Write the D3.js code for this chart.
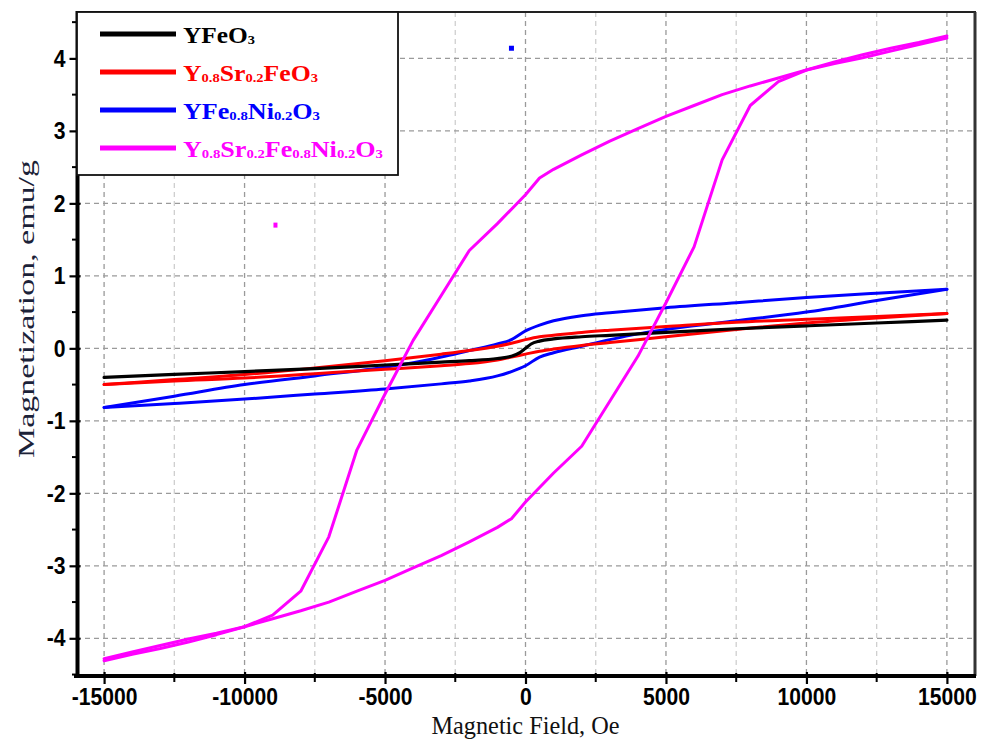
<!DOCTYPE html>
<html>
<head>
<meta charset="utf-8">
<script src="https://cdn.jsdelivr.net/npm/d3@7"></script>
<style>
  html, body { margin: 0; padding: 0; background: #fff; }
  svg { display: block; }
</style>
</head>
<body>
<svg id="chart" width="989" height="741"></svg>
<script>
// ---------------- DATA ----------------
const xTicks = [-15000, -10000, -5000, 0, 5000, 10000, 15000];
const yTicks = [-4, -3, -2, -1, 0, 1, 2, 3, 4];

// YFeO3 (black)
const blackH = [-15000,-12500,-10000,-7500,-5000,-3000,-2000,-1000,-500,-200,0,200,500,1000,2000,3000,5000,7500,10000,12500,15000];
const blackM = [-0.40,-0.36,-0.32,-0.28,-0.23,-0.19,-0.17,-0.14,-0.11,-0.06,0.0,0.06,0.10,0.13,0.16,0.18,0.22,0.27,0.31,0.35,0.39];

// Y0.8Sr0.2FeO3 (red)
const redH = [-15000,-12500,-10000,-7500,-5000,-3000,-2000,-1000,-500,0,500,1000,2000,3000,5000,7500,10000,12500,15000];
const redUpper = [-0.50,-0.43,-0.36,-0.27,-0.17,-0.08,-0.03,0.03,0.07,0.12,0.16,0.18,0.22,0.25,0.30,0.36,0.40,0.44,0.48];
const redLower = [-0.50,-0.45,-0.41,-0.35,-0.29,-0.24,-0.21,-0.16,-0.12,-0.08,-0.04,-0.01,0.04,0.08,0.16,0.26,0.35,0.42,0.48];

// YFe0.8Ni0.2O3 (blue)
const blueUpperH = [-15000,-12500,-10000,-7500,-5000,-4000,-3000,-2000,-1000,-500,0,500,1000,2000,3000,5000,7500,10000,12500,15000];
const blueUpper  = [-0.815,-0.66,-0.50,-0.38,-0.26,-0.20,-0.12,-0.03,0.06,0.12,0.24,0.32,0.38,0.45,0.49,0.56,0.63,0.70,0.76,0.815];
const blueLowerH = [-15000,-12500,-10000,-7500,-5000,-3000,-2000,-1000,-500,0,500,1000,2000,3000,4000,5000,7500,10000,12500,15000];
const blueLower  = [-0.815,-0.76,-0.70,-0.63,-0.56,-0.49,-0.45,-0.38,-0.32,-0.24,-0.12,-0.06,0.03,0.12,0.20,0.26,0.38,0.50,0.66,0.815];

// Y0.8Sr0.2Fe0.8Ni0.2O3 (magenta)
const magH = [-15000,-14000,-13000,-12000,-11000,-10000,-9000,-8000,-7000,-6000,-5000,-4000,-3000,-2000,-1000,-500,0,500,1000,2000,3000,4000,5000,6000,7000,8000,9000,10000,11000,12000,13000,14000,15000];
const magUpper = [-4.28,-4.19,-4.10,-4.01,-3.93,-3.84,-3.68,-3.35,-2.60,-1.40,-0.63,0.11,0.73,1.35,1.72,1.92,2.12,2.35,2.47,2.67,2.86,3.03,3.20,3.35,3.50,3.62,3.73,3.84,3.95,4.05,4.14,4.22,4.31];
const magLower = [-4.31,-4.22,-4.14,-4.05,-3.95,-3.84,-3.73,-3.62,-3.50,-3.35,-3.20,-3.03,-2.86,-2.67,-2.47,-2.35,-2.12,-1.92,-1.72,-1.35,-0.73,-0.11,0.63,1.40,2.60,3.35,3.68,3.84,3.93,4.01,4.10,4.19,4.28];

// stray marks present in the original figure
const strayBlue = [[-500, 4.14]];
const strayMagenta = [[-8900, 1.70]];

const seriesNames = ["YFeO3", "Y0.8Sr0.2FeO3", "YFe0.8Ni0.2O3", "Y0.8Sr0.2Fe0.8Ni0.2O3"];
const seriesColors = ["#000000", "#ff0000", "#0000ff", "#ff00ff"];
// legend labels as [text, isSubscript] parts
const legendParts = [
  [["YFeO",0],["3",1]],
  [["Y",0],["0.8",1],["Sr",0],["0.2",1],["FeO",0],["3",1]],
  [["YFe",0],["0.8",1],["Ni",0],["0.2",1],["O",0],["3",1]],
  [["Y",0],["0.8",1],["Sr",0],["0.2",1],["Fe",0],["0.8",1],["Ni",0],["0.2",1],["O",0],["3",1]]
];
const legendWidths = [72, 135, 137, 200];

// ---------------- CHART ----------------
const svg = d3.select("#chart");
const pL = 76, pR = 975, pT = 12, pB = 676;

const x = d3.scaleLinear().domain([-16000, 16000]).range([pL, pR]);
const y = d3.scaleLinear().domain([-4.52, 4.64]).range([pB, pT]);

// grid
const grid = svg.append("g");
d3.range(-15000, 15001, 2500).forEach(v => {
  const major = v % 5000 === 0;
  grid.append("line")
    .attr("x1", x(v)).attr("x2", x(v)).attr("y1", pT).attr("y2", pB)
    .attr("stroke", major ? "#9a9a9a" : "#cfcfcf")
    .attr("stroke-width", 1.3).attr("stroke-dasharray", "5,4");
});
yTicks.forEach(v => {
  grid.append("line")
    .attr("x1", pL).attr("x2", pR).attr("y1", y(v)).attr("y2", y(v))
    .attr("stroke", "#9a9a9a").attr("stroke-width", 1.3).attr("stroke-dasharray", "5,4");
});

// curves
const linePath = (curve) => d3.line().x(d => x(d[0])).y(d => y(d[1])).curve(curve);
const zip = (a, b) => a.map((v, i) => [v, b[i]]);
const curves = svg.append("g").attr("fill", "none").attr("stroke-linejoin", "round").attr("stroke-linecap", "round");

function draw(data, color, curve, w) {
  curves.append("path").attr("d", linePath(curve)(data))
    .attr("stroke", color).attr("stroke-width", w);
}
draw(zip(blueUpperH, blueUpper), seriesColors[2], d3.curveMonotoneX, 3);
draw(zip(blueLowerH, blueLower), seriesColors[2], d3.curveMonotoneX, 3);
draw(zip(redH, redUpper), seriesColors[1], d3.curveMonotoneX, 3);
draw(zip(redH, redLower), seriesColors[1], d3.curveMonotoneX, 3);
draw(zip(blackH, blackM), seriesColors[0], d3.curveMonotoneX, 3.2);
draw(zip(magH, magUpper), seriesColors[3], d3.curveLinear, 3);
draw(zip(magH, magLower), seriesColors[3], d3.curveLinear, 3);

svg.selectAll(".sb").data(strayBlue).join("rect")
  .attr("x", d => x(d[0]) - 2.5).attr("y", d => y(d[1]) - 2.5)
  .attr("width", 5).attr("height", 5).attr("fill", "#0000ff");
svg.selectAll(".sm").data(strayMagenta).join("rect")
  .attr("x", d => x(d[0]) - 2).attr("y", d => y(d[1]) - 2.5)
  .attr("width", 4).attr("height", 5).attr("fill", "#ff00ff");

// frame (top, right)
svg.append("line").attr("x1", pL).attr("x2", pR + 1).attr("y1", pT).attr("y2", pT)
  .attr("stroke", "#222").attr("stroke-width", 2);
svg.append("line").attr("x1", pR).attr("x2", pR).attr("y1", pT).attr("y2", pB)
  .attr("stroke", "#333").attr("stroke-width", 3);

// axes
const tickFont = "'Liberation Sans', Arial, sans-serif";
function narrow(sel) {
  sel.each(function() {
    const w = this.getComputedTextLength();
    d3.select(this).attr("textLength", w * 0.88).attr("lengthAdjust", "spacingAndGlyphs");
  });
}
const xAxis = d3.axisBottom(x).tickValues(xTicks).tickSize(8).tickSizeOuter(0).tickPadding(4)
  .tickFormat(d => d < 0 ? "-" + Math.abs(d) : String(d));
const gx = svg.append("g").attr("transform", `translate(0,${pB})`).call(xAxis);
gx.select(".domain").attr("stroke", "#000").attr("stroke-width", 4)
  .attr("d", `M${pL - 2},0H${pR + 1}`);
gx.selectAll(".tick line").attr("stroke", "#000").attr("stroke-width", 2.2).attr("y1", -4);
gx.selectAll(".tick text").attr("font-family", tickFont).attr("font-weight", "bold")
  .attr("font-size", 24).attr("fill", "#000").call(narrow);

// x minor ticks
svg.append("g").selectAll("line").data(d3.range(-12500, 15000, 5000)).join("line")
  .attr("x1", d => x(d)).attr("x2", d => x(d)).attr("y1", pB - 3).attr("y2", pB + 6)
  .attr("stroke", "#000").attr("stroke-width", 2);

const yAxis = d3.axisLeft(y).tickValues(yTicks).tickSize(8).tickSizeOuter(0).tickPadding(4)
  .tickFormat(d => d < 0 ? "-" + Math.abs(d) : String(d));
const gy = svg.append("g").attr("transform", `translate(${pL + 1.5},0)`).call(yAxis);
gy.select(".domain").attr("stroke", "#000").attr("stroke-width", 4)
  .attr("d", `M0,${pT - 1}V${pB + 2}`);
gy.selectAll(".tick line").attr("stroke", "#000").attr("stroke-width", 2.2).attr("x1", 3);
gy.selectAll(".tick text").attr("font-family", tickFont).attr("font-weight", "bold")
  .attr("font-size", 24).attr("fill", "#000").call(narrow);

// y minor ticks
svg.append("g").selectAll("line").data(d3.range(-4.5, 4.6, 1)).join("line")
  .attr("x1", pL + 3).attr("x2", pL - 4).attr("y1", d => y(d)).attr("y2", d => y(d))
  .attr("stroke", "#000").attr("stroke-width", 2);

// axis titles
svg.append("text").attr("x", (pL + pR) / 2).attr("y", 734)
  .attr("text-anchor", "middle").attr("font-family", "'Liberation Serif', 'DejaVu Serif', serif")
  .attr("font-size", 25).attr("fill", "#111")
  .attr("textLength", 188).attr("lengthAdjust", "spacingAndGlyphs")
  .text("Magnetic Field, Oe");
svg.append("text").attr("transform", `translate(34,309) rotate(-90)`)
  .attr("text-anchor", "middle").attr("font-family", "'Liberation Serif', 'DejaVu Serif', serif")
  .attr("font-size", 24).attr("fill", "#1b2238")
  .attr("textLength", 298).attr("lengthAdjust", "spacingAndGlyphs")
  .text("Magnetization, emu/g");

// legend
const lg = svg.append("g");
lg.append("rect").attr("x", pL + 1).attr("y", pT).attr("width", 398 - pL - 1).attr("height", 175 - pT)
  .attr("fill", "#fff").attr("stroke", "#111").attr("stroke-width", 1.8);
seriesNames.forEach((name, i) => {
  const cy = 34 + i * 38;
  lg.append("line").attr("x1", 100).attr("x2", 176).attr("y1", cy).attr("y2", cy)
    .attr("stroke", seriesColors[i]).attr("stroke-width", 5);
  const t = lg.append("text").attr("x", 183).attr("y", cy + 9)
    .attr("font-family", "'Liberation Serif', 'Times New Roman', serif").attr("font-weight", "bold")
    .attr("font-size", 23).attr("fill", seriesColors[i])
    .attr("textLength", legendWidths[i]).attr("lengthAdjust", "spacingAndGlyphs");
  const parts = legendParts[i];
  parts.forEach(([txt, sub], j) => {
    const prevSub = j > 0 && parts[j - 1][1];
    const ts = t.append("tspan").text(txt);
    if (sub) ts.attr("font-size", 13);
    ts.attr("dy", sub && !prevSub ? 1 : (!sub && prevSub ? -1 : 0));
  });
});
</script>
</body>
</html>
